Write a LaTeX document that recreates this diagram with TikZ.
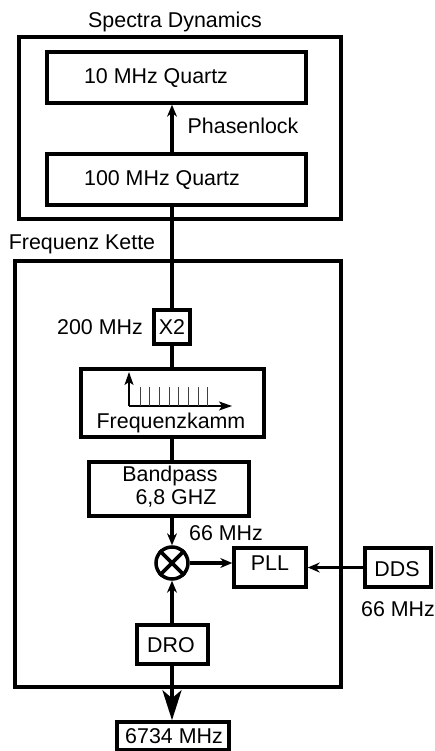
\documentclass[tikz,border=0pt]{standalone}
\usepackage{fontspec}
\setmainfont{Liberation Sans}
\usetikzlibrary{arrows.meta}
\tikzset{
  x=1pt,y=-1pt,
  lab/.style={font=\fontsize{21.4pt}{24pt}\selectfont,inner sep=0pt,text=black,align=center},
  blockbox/.style={draw=black,line width=3.5pt,inner sep=0pt},
  conn/.style={line width=3.2pt,draw=black},
  arr/.style={conn,-{Stealth[length=12pt,width=10pt,inset=4pt]}},
  bigarr/.style={conn,line width=3.8pt,-{Stealth[length=30pt,width=19pt,inset=8pt]}},
  thin axis/.style={line width=1.6pt,-{Stealth[length=13pt,width=9pt,inset=3pt]}},
  tick/.style={line width=1pt,draw=black!75}
}
\begin{document}
\begin{tikzpicture}
\useasboundingbox (0,0) rectangle (435,751);
% outer frames
\draw[line width=3.5pt] (19,37) rectangle (341,219);
\draw[line width=3.5pt] (15,261) rectangle (341,687);
% blocks
\node[blockbox,minimum width=259pt,minimum height=51pt] (q10) at (176.5,77.5) {};
\node[blockbox,minimum width=259pt,minimum height=51pt] (q100) at (176.5,179.5) {};
\node[blockbox,minimum width=36pt,minimum height=34pt] (x2) at (172,327) {};
\node[blockbox,minimum width=183pt,minimum height=68pt] (comb) at (172.5,403) {};
\node[blockbox,minimum width=160pt,minimum height=54pt] (bp) at (169,489) {};
\node[blockbox,circle,minimum size=32pt] (mix) at (172,563) {};
\node[blockbox,minimum width=72pt,minimum height=39pt] (pll) at (270,567.5) {};
\node[blockbox,minimum width=66pt,minimum height=39pt] (dds) at (398,567.5) {};
\node[blockbox,minimum width=71pt,minimum height=39pt] (dro) at (172.5,644.5) {};
\node[blockbox,minimum width=112pt,minimum height=28pt] (out) at (173,736) {};
% mixer cross
\draw[line width=3.6pt] (mix.north west) -- (mix.south east);
\draw[line width=3.6pt] (mix.north east) -- (mix.south west);
% block texts
\node[lab] (tq10) at (156,78) {10 MHz Quartz};
\node[lab] (tq100) at (162,180) {100 MHz Quartz};
\node[lab] (tx2) at (172,327) {X2};
\node[lab] (tcomb) at (171,423) {Frequenzkamm};
\node[lab] (tbp1) at (170,476) {Bandpass};
\node[lab] (tbp2) at (176,498) {6,8 GHZ};
\node[lab] (tpll) at (270,563) {PLL};
\node[lab] (tdds) at (397,569) {DDS};
\node[lab] (tdro) at (171,645) {DRO};
\node[lab] (tout) at (174,736) {6734 MHz};
% free labels
\node[lab] (tsd) at (175,22) {Spectra Dynamics};
\node[lab] (tpl) at (243,126) {Phasenlock};
\node[lab] (tfk) at (82,244) {Frequenz Kette};
\node[lab] (t200) at (100,327) {200 MHz};
\node[lab] (t66a) at (226,533) {66 MHz};
\node[lab] (t66b) at (398,609) {66 MHz};
% connectors
\draw[arr] (q100.north -| 172,0) -- (q10.south -| 172,0);
\draw[conn] (q100.south -| 172,0) -- (x2.north);
\draw[conn] (x2.south) -- (comb.north -| 172,0);
\draw[conn] (comb.south -| 172,0) -- (bp.north -| 172,0);
\draw[arr] (bp.south -| 172,0) -- (mix.north);
\draw[arr] (dro.north -| 172,0) -- (mix.south);
\draw[arr] (mix.east) -- (pll.west |- mix.east);
\draw[arr] (dds.west) -- (pll.east);
\draw[bigarr] (dro.south -| 172,0) -- (out.north -| 172,0);
% comb sketch
\coordinate (o) at (129,406);
\coordinate (yend) at (129,372);
\coordinate (xend) at (232,406);
\draw[thin axis] (o) -- (yend);
\draw[thin axis] (o) -- (xend);
\foreach \t in {140,149.5,159.5,169,178.5,188.5,198,207.5}
  \draw[tick] (\t,406) -- (\t,387);
\end{tikzpicture}
\end{document}
